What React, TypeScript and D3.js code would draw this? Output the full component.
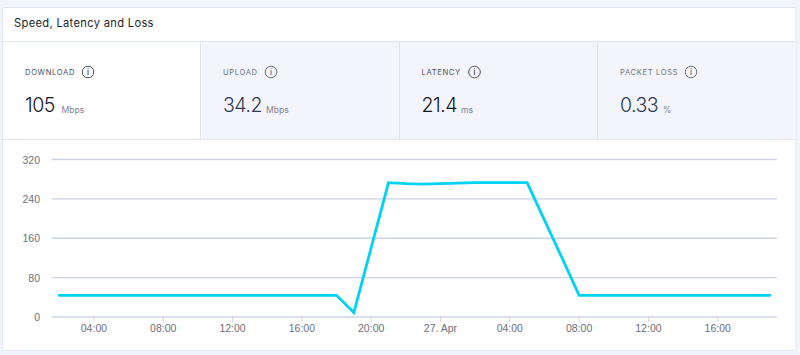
import React from "react";
import * as d3 from "d3";

const W = 800;
const H = 355;

const title = "Speed, Latency and Loss";
const metricLabels = ["DOWNLOAD", "UPLOAD", "LATENCY", "PACKET LOSS"];
const metricValues = ["105", "34.2", "21.4", "0.33"];
const metricUnits = ["Mbps", "Mbps", "ms", "%"];

// Hours since 00:00 on 26 Apr, one reading per hour
const startHour = 2;
const download = [
  44, 44, 44, 44, 44, 44, 44, 44, 44, 44, 44, 44, 44, 44, 44, 44, 44, 9, 141, 273,
  271, 270, 271, 272, 273, 273, 273, 273, 197, 121, 44, 44, 44, 44, 44, 44, 44, 44,
  44, 44, 44, 44,
];
const yTicks = [0, 80, 160, 240, 320];
const xTickHours = [4, 8, 12, 16, 20, 24, 28, 32, 36, 40];
const xTickLabels = ["04:00", "08:00", "12:00", "16:00", "20:00", "27. Apr", "04:00", "08:00", "12:00", "16:00"];

const panels = [
  { x: 3, w: 197.5, bg: "#ffffff", textX: 25, iconX: 88, unitX: 61.5, labelFill: "#4a4f5e", valueFill: "#14171f" },
  { x: 201.5, w: 197.5, bg: "#f3f5fa", textX: 223, iconX: 271, unitX: 266, labelFill: "#6d7385", valueFill: "#2f3a55" },
  { x: 400, w: 197, bg: "#f3f5fa", textX: 421.5, iconX: 474.5, unitX: 461, labelFill: "#4a4f5e", valueFill: "#14171f" },
  { x: 598, w: 197.5, bg: "#f3f5fa", textX: 620, iconX: 691, unitX: 663, labelFill: "#6d7385", valueFill: "#2f3a55" },
];

const FONT = "Inter, 'Open Sans', sans-serif";
const AXIS_FONT = "'Liberation Sans', Arial, sans-serif";

export default function App() {
  const x = d3.scaleLinear().domain([1.58, 43.42]).range([52, 777]);
  const y = d3.scaleLinear().domain([0, 320]).range([317, 159.5]);
  const line = d3
    .line<number>()
    .x((_, i) => x(startHour + i))
    .y((d) => y(d));

  return (
    <svg width={W} height={H} style={{ position: "absolute", left: 0, top: 0, background: "#f1f4fa" }}>
      <rect x={2.5} y={7.5} width={793.5} height={343} rx={2} fill="#ffffff" stroke="#e1e7f2" />
      <text x={14} y={26.5} fontFamily={FONT} fontSize={11.2} fill="#1c1f2a" letterSpacing={0.3}>
        {title}
      </text>
      {panels.map((p, i) => (
        <g key={metricLabels[i]}>
          <rect x={p.x} y={42} width={p.w} height={97} fill={p.bg} />
          <text x={p.textX} y={75} fontFamily={FONT} fontSize={7.6} letterSpacing={0.65} fill={p.labelFill}>
            {metricLabels[i]}
          </text>
          <circle cx={p.iconX} cy={72} r={5.8} fill="none" stroke={p.labelFill} strokeWidth={1} />
          <text x={p.iconX} y={75} textAnchor="middle" fontFamily={FONT} fontSize={7.5} fontWeight={600} fill={p.labelFill}>
            i
          </text>
          <text x={p.textX} y={112} fontFamily={FONT} fontSize={19.5} fontWeight={300} letterSpacing={-0.5} fill={p.valueFill}>
            {metricValues[i]}
          </text>
          <text x={p.unitX} y={113} fontFamily={FONT} fontSize={8.6} fill="#7d8292">
            {metricUnits[i]}
          </text>
        </g>
      ))}
      <line x1={3} x2={795.5} y1={41.5} y2={41.5} stroke="#e1e7f2" />
      <line x1={3} x2={795.5} y1={139.5} y2={139.5} stroke="#e1e7f2" />
      {[200.5, 399.5, 597.5].map((lx) => (
        <line key={lx} x1={lx} x2={lx} y1={42} y2={139} stroke="#dfe5f0" />
      ))}

      {yTicks.map((t) => (
        <g key={t}>
          <line x1={52} x2={777} y1={y(t)} y2={y(t)} stroke="#cdd3e4" strokeWidth={1.3} />
          <text x={40} y={y(t) + 4} textAnchor="end" fontFamily={AXIS_FONT} fontSize={10.5} fill="#6b6f7c">
            {t}
          </text>
        </g>
      ))}
      {xTickHours.map((h, i) => (
        <g key={h}>
          <line x1={x(h)} x2={x(h)} y1={317} y2={322} stroke="#d0d6e6" />
          <text x={x(h)} y={332} textAnchor="middle" fontFamily={AXIS_FONT} fontSize={10.5} fill="#6b6f7c">
            {xTickLabels[i]}
          </text>
        </g>
      ))}
      <path d={line(download) ?? ""} fill="none" stroke="#00d2f2" strokeWidth={2.8} strokeLinejoin="miter" strokeLinecap="round" />
    </svg>
  );
}
